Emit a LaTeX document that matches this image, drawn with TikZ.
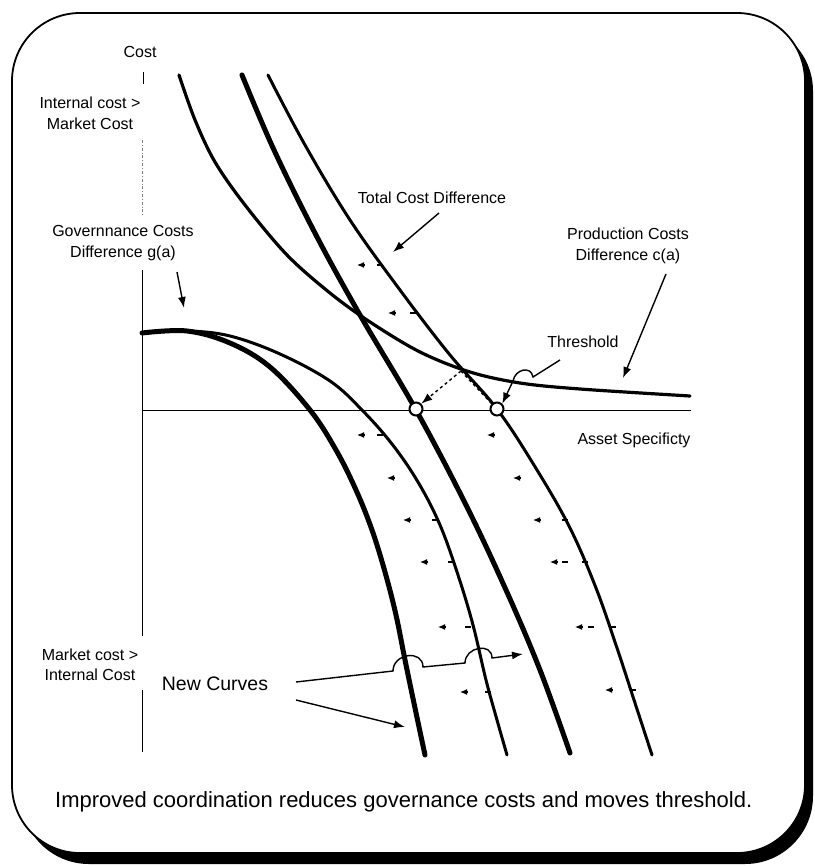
\documentclass[tikz,border=0pt]{standalone}
\usepackage{fontspec}
\setmainfont{Liberation Sans}
\usetikzlibrary{arrows.meta}

\begin{document}
\begin{tikzpicture}[x=1pt, y=-1pt,
  lbl/.style = {font=\fontsize{16}{21}\selectfont, align=center, inner sep=0pt},
  thincurve/.style = {line width=3pt, line cap=round},
  thickcurve/.style = {line width=5pt, line cap=round},
  pointer/.style = {line width=1.4pt, -{Latex[length=11pt,width=8pt]}},
  shiftarrow/.style = {line width=1.2pt, -{Latex[length=7pt,width=6pt]}},
  thr/.style = {circle, draw, fill=white, line width=2pt, minimum size=13pt, inner sep=0pt}]
\useasboundingbox (0,0) rectangle (814,867);
% frame and shadow
\fill[rounded corners=68pt] (21,23) rectangle (813,864);
\draw[fill=white, line width=1.8pt, rounded corners=68pt] (12,13) rectangle (805,853);
% axes
\coordinate (O) at (142,410);
\coordinate (xend) at (691,410);
\draw[line width=0.9pt] (143,72) -- (143,84);
\draw[line width=0.7pt, gray, dash dot] (142,140) -- (142,215);
\draw[line width=0.9pt] (142,270) -- (142,636);
\draw[line width=0.9pt] (142,690) -- (142,752);
\draw[line width=0.9pt] (O) -- (xend);
% production costs difference c(a)
\draw[line width=3.2pt, line cap=round] plot[smooth, tension=0.55] coordinates {(179,75) (195,120) (215,162) (245,205) (287,255) (330,293) (370,322) (420,352) (470,372) (520,383) (580,389) (690,396)};
% total cost difference, old and new
\draw[thincurve] plot[smooth, tension=0.6] coordinates {(268,75) (305,145) (350,220) (400,290) (450,355) (497,409) (537,470) (570,528) (596,588) (617,648) (635,703) (652,755)};
\draw[thickcurve] plot[smooth, tension=0.6] coordinates {(242,75) (274,150) (316,235) (360,315) (416,410) (466,505) (506,590) (540,670) (570,753)};
% governance costs difference g(a), old and new
\draw[thincurve] plot[smooth, tension=0.6] coordinates {(142,333) (187,331) (230,336) (280,354) (330,381) (362,410) (392,444) (418,482) (440,525) (458,575) (473,625) (486,680) (497,720) (507,755)};
\draw[thickcurve] plot[smooth, tension=0.6] coordinates {(142,333) (187,331) (230,343) (270,367) (310,410) (336,450) (356,490) (372,530) (385,572) (396,615) (405,660) (415,708) (425,755)};
% shift marks
\foreach \x/\y in {357/265, 388/313, 357/435, 387/478, 403/520, 420/562, 438/627, 460/692,
                   487/435, 513/478, 533/520, 550/562, 575/627, 605/690}
  \draw[shiftarrow] (\x+8,\y) -- (\x,\y);
\foreach \x/\y in {377/265, 410/313, 377/435, 432/520, 448/562, 465/627, 485/692,
                   562/520, 562/562, 582/562, 588/627, 610/627, 630/690}
  \draw[line width=1.2pt] (\x,\y) -- (\x+6,\y);
% thresholds
\node[thr] (newthr) at (416,409) {};
\node[thr] (oldthr) at (497,409) {};
\coordinate (meet) at (461,371);
\draw[dashed, pointer] (meet) -- (newthr.north east);
\draw[dashed, line width=1.4pt] (meet) -- (oldthr.north west);
% labels
\node[lbl] (cost) at (140,52) {Cost};
\node[lbl] (intcost) at (90,113) {Internal cost >\\Market Cost};
\node[lbl] (govlabel) at (123,243) {Governnance Costs\\Difference g(a)};
\node[lbl] (totlabel) at (432,198) {Total Cost Difference};
\node[lbl] (prodlabel) at (628,246) {Production Costs\\Difference c(a)};
\node[lbl] (thrlabel) at (583,342) {Threshold};
\node[lbl] (assetlabel) at (634,440) {Asset Specificty};
\node[lbl, font=\fontsize{16}{19.5}\selectfont] (mktcost) at (90,665) {Market cost >\\Internal Cost};
\node[lbl, font=\fontsize{19.5}{22}\selectfont] (newcurves) at (215,684) {New Curves};
\node[lbl, font=\fontsize{22}{24}\selectfont, anchor=west] (caption) at (55,802) {Improved coordination reduces governance costs and moves threshold.};
% pointers
\coordinate (govtail) at (177,272);
\coordinate (govhead) at (184,308);
\coordinate (tottail) at (439,213);
\coordinate (tothead) at (393,252);
\coordinate (prodtail) at (666,274);
\coordinate (prodhead) at (623,378);
\coordinate (thrtail) at (560,360);
\coordinate (newtail) at (296,682);
\coordinate (newhead) at (523,654);
\coordinate (lowtail) at (296,700);
\coordinate (lowhead) at (405,727);
\draw[pointer] (govtail) -- (govhead);
\draw[pointer] (tottail) -- (tothead);
\draw[pointer] (prodtail) -- (prodhead);
\draw[pointer] (thrtail) -- (533,377) to[out=100, in=80, looseness=1.5] (513,381) -- (oldthr.north east);
\draw[pointer] (newtail) -- (393,671) to[out=90, in=90, looseness=1.5] (423,667) -- (465,663) to[out=90, in=90, looseness=1.5] (492,658) -- (newhead);
\draw[pointer] (lowtail) -- (lowhead);
\end{tikzpicture}
\end{document}
